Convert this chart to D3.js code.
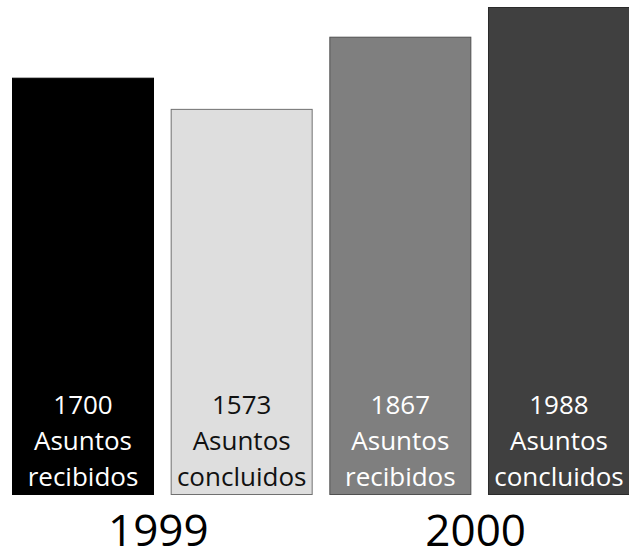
<!DOCTYPE html>
<html lang="es">
<head>
<meta charset="UTF-8">
<title>Asuntos</title>
<style>
  body { margin: 0; background: #fff; }
  text { font-family: "Open Sans", "Noto Sans", sans-serif; }
</style>
</head>
<body>
<script src="https://cdn.jsdelivr.net/npm/d3@7"></script>
<script>
var years = ['1999', '2000']
var labels = ['Asuntos recibidos', 'Asuntos concluidos', 'Asuntos recibidos', 'Asuntos concluidos']
var values = [1700, 1573, 1867, 1988]
var barYear = ['1999', '1999', '2000', '2000']

var width = 629, height = 552
var fills = ['#000000', '#dedede', '#7f7f7f', '#404040']
var strokes = ['#000000', '#707070', '#505050', '#2a2a2a']
var textCol = ['#ffffff', '#111111', '#ffffff', '#ffffff']

var svg = d3.select('body').append('svg')
    .attr('width', width).attr('height', height)

var x = d3.scaleBand().domain(d3.range(values.length))
    .range([12, 630]).paddingInner(0.105).paddingOuter(0)
var y = d3.scaleLinear().domain([0, 1988]).range([495, 7])

svg.selectAll('rect.bar').data(values)
    .enter().append('rect')
    .attr('class', 'bar')
    .attr('x', (d, i) => x(i) + 0.5)
    .attr('y', d => y(d) + 0.5)
    .attr('width', x.bandwidth() - 1)
    .attr('height', d => y(0) - y(d) - 1)
    .attr('fill', (d, i) => fills[i])
    .attr('stroke', (d, i) => strokes[i])
    .attr('stroke-width', 1)

var lbl = svg.selectAll('text.lbl').data(values)
    .enter().append('text')
    .attr('class', 'lbl')
    .attr('text-anchor', 'middle')
    .attr('font-size', 26)
    .attr('fill', (d, i) => textCol[i])

lbl.each(function (d, i) {
    var t = d3.select(this)
    var cx = x(i) + x.bandwidth() / 2
    var lines = [String(d)].concat(labels[i].split(' '))
    lines.forEach(function (s, j) {
        t.append('tspan').attr('x', cx).attr('y', 414 + j * 36).text(s)
    })
})

svg.selectAll('text.year').data(years)
    .enter().append('text')
    .attr('class', 'year')
    .attr('text-anchor', 'middle')
    .attr('font-size', 44)
    .attr('fill', '#000')
    .attr('x', function (yr) {
        var idx = d3.range(values.length).filter(i => barYear[i] === yr)
        return (x(idx[0]) + x(idx[idx.length - 1]) + x.bandwidth()) / 2 - 4
    })
    .attr('y', 546)
    .text(d => d)
</script>
</body>
</html>
